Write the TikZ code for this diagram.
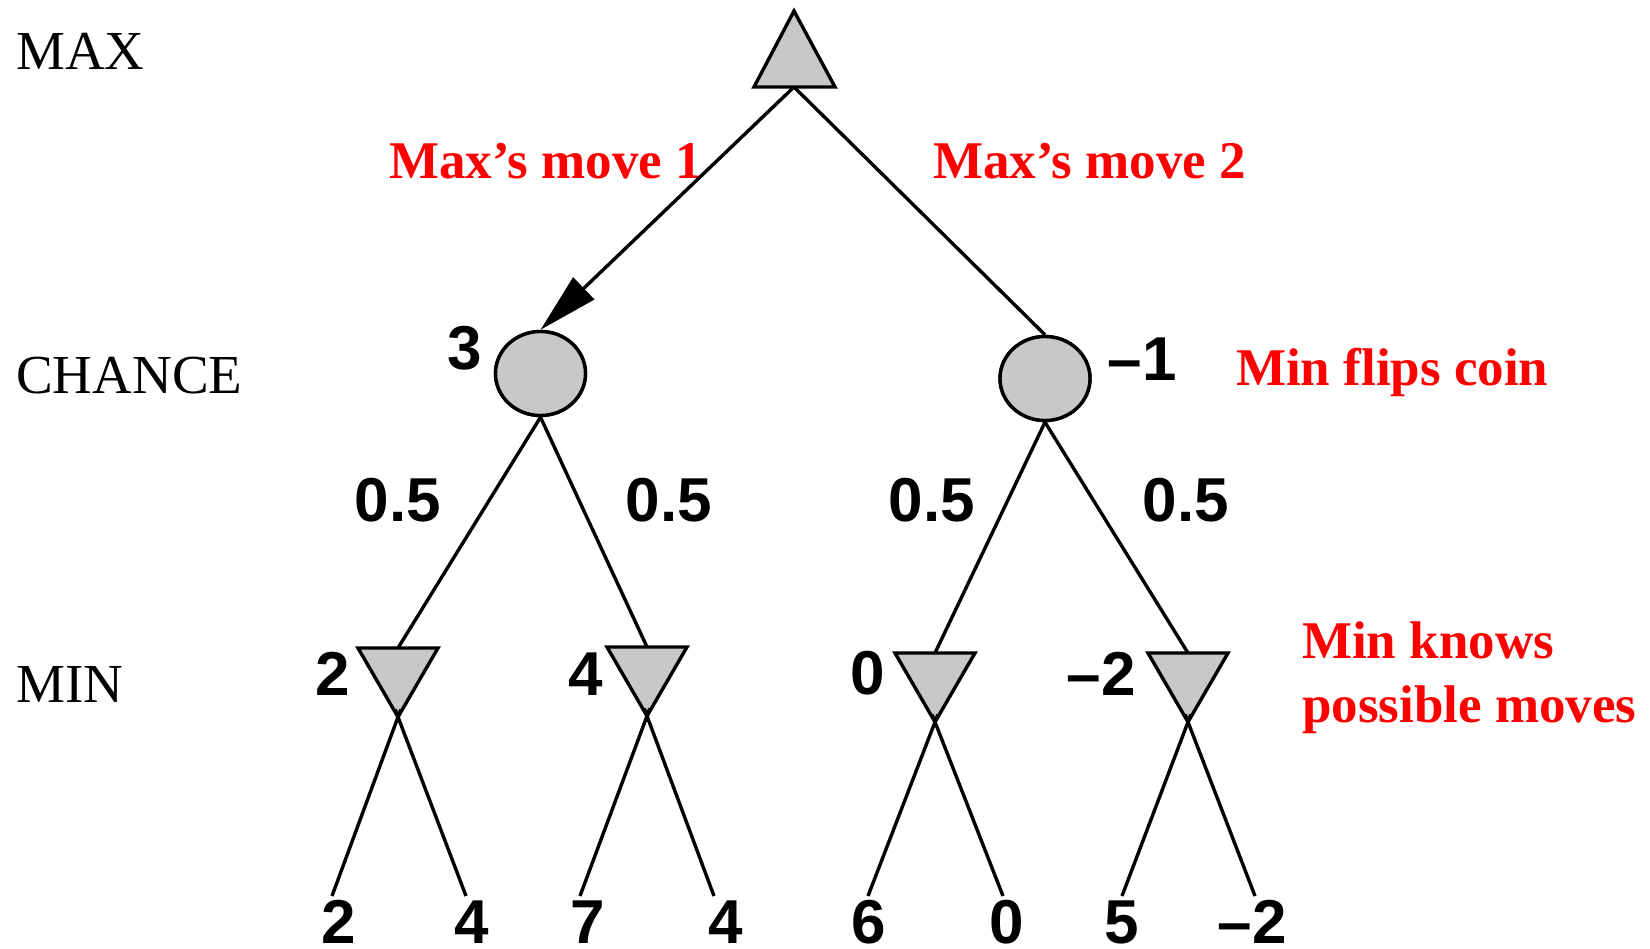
\documentclass[tikz,border=0pt]{standalone}
\usepackage{fontspec}
\setmainfont{Liberation Serif}
\newfontfamily\numfont{Liberation Sans}
\usetikzlibrary{arrows.meta,shapes.geometric}
\definecolor{nodegray}{RGB}{200,200,200}
\definecolor{notered}{RGB}{255,0,0}
\begin{document}
\begin{tikzpicture}[x=1pt,y=-1pt,
  edge/.style={line width=3.4pt},
  shapebox/.style={draw,line width=3.4pt,fill=nodegray,line join=miter},
  chance/.style={shapebox,ellipse,minimum width=90pt,minimum height=84pt,inner sep=0pt},
  num/.style={font=\numfont\bfseries\fontsize{62}{70}\selectfont,inner sep=0pt,anchor=base},
  lvl/.style={font=\fontsize{55}{60}\selectfont,inner sep=0pt,anchor=base west},
  note/.style={font=\bfseries\fontsize{53}{64}\selectfont,text=notered,inner sep=0pt,anchor=base west}]
\useasboundingbox[fill=white] (0,0) rectangle (1650,949);

% level labels
\node[lvl] (lmax) at (16,70) {MAX};
\node[lvl] (lchance) at (16,394) {CHANCE};
\node[lvl] (lmin) at (16,702) {MIN};

% red notes
\node[note] (n1) at (389,179) {Max’s move 1};
\node[note] (n2) at (933,179) {Max’s move 2};
\node[note] (n3) at (1236,386) {Min flips coin};
\node[note] (n4a) at (1302,658) {Min knows};
\node[note] (n4b) at (1302,722) {possible moves};

% MAX node
\coordinate (maxb) at (794,87);
\coordinate (maxl) at (754,87);
\coordinate (maxr) at (835,87);
\coordinate (maxt) at (794,11);

% chance nodes
\node[chance] (c1) at (540.5,373.5) {};
\node[chance] (c2) at (1045,378.5) {};

% MIN nodes (top centre, apex)
\foreach \n/\x/\t in {m1/398/648, m2/647/647, m3/935/653, m4/1188/653}{
  \coordinate (\n t) at (\x,\t);
  \coordinate (\n l) at (\x-40,\t);
  \coordinate (\n r) at (\x+40,\t);
  \pgfmathsetmacro\ay{\t+69}
  \coordinate (\n a) at (\x,\ay);
}

% leaf line ends
\coordinate (e1) at (332,896);
\coordinate (e2) at (466,896);
\coordinate (e3) at (580,896);
\coordinate (e4) at (714,896);
\coordinate (e5) at (868,896);
\coordinate (e6) at (1003,896);
\coordinate (e7) at (1122,896);
\coordinate (e8) at (1255,896);

% connectors
\draw[edge,-{Triangle[length=60pt,width=30pt]}] (maxb) -- (c1.north);
\draw[edge] (maxb) -- (c2.north);
\draw[edge] (c1.south) -- (m1t);
\draw[edge] (c1.south) -- (m2t);
\draw[edge] (c2.south) -- (m3t);
\draw[edge] (c2.south) -- (m4t);

% shapes
\draw[shapebox] (maxl) -- (maxt) -- (maxr) -- cycle;
\node[chance] at (c1) {};
\node[chance] at (c2) {};
\foreach \n in {m1,m2,m3,m4}{
  \draw[shapebox] (\n l) -- (\n r) -- (\n a) -- cycle;
}

% leaf connectors
\draw[edge,shorten <=-8pt] (m1a) -- (e1);
\draw[edge,shorten <=-8pt] (m1a) -- (e2);
\draw[edge,shorten <=-8pt] (m2a) -- (e3);
\draw[edge,shorten <=-8pt] (m2a) -- (e4);
\draw[edge,shorten <=-8pt] (m3a) -- (e5);
\draw[edge,shorten <=-8pt] (m3a) -- (e6);
\draw[edge,shorten <=-8pt] (m4a) -- (e7);
\draw[edge,shorten <=-8pt] (m4a) -- (e8);

% values
\node[num] (v3) at (465,370) {3};
\node[num] (vm1) at (1142,381) {–1};
\node[num] (vmin1) at (333,695) {2};
\node[num] (vmin2) at (586,695) {4};
\node[num] (vmin3) at (868,694) {0};
\node[num] (vmin4) at (1101,695) {–2};

\node[num] (p1) at (398,521) {0.5};
\node[num] (p2) at (669,521) {0.5};
\node[num] (p3) at (932,521) {0.5};
\node[num] (p4) at (1186,521) {0.5};

\node[num] (l1) at (339,943) {2};
\node[num] (l2) at (472,943) {4};
\node[num] (l3) at (588,943) {7};
\node[num] (l4) at (726,943) {4};
\node[num] (l5) at (869,943) {6};
\node[num] (l6) at (1007,943) {0};
\node[num] (l7) at (1122,943) {5};
\node[num] (l8) at (1252,943) {–2};
\end{tikzpicture}
\end{document}
